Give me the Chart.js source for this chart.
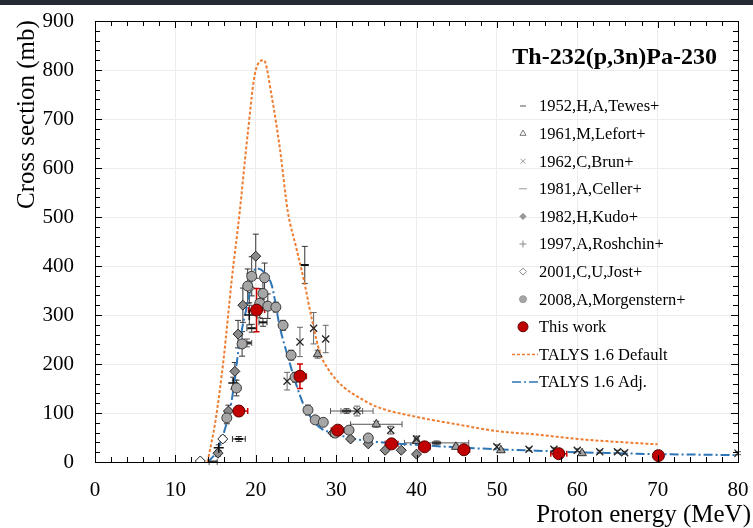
<!DOCTYPE html>
<html>
<head>
<meta charset="utf-8">
<script src="https://cdn.jsdelivr.net/npm/chart.js@4.4.1/dist/chart.umd.min.js"></script>
<style>
  html, body { margin: 0; padding: 0; background: #fff; }
  #wrap { position: relative; width: 753px; height: 528px; }
  #topbar { position: absolute; left: 0; top: 0; width: 753px; height: 5px; background: #262a33; }
</style>
</head>
<body>
<div id="wrap">
  <canvas id="chart" width="753" height="528"></canvas>
  <div id="topbar"></div>
</div>
<script>
// TALYS curves
const talysDefE  = [14, 15, 16, 17, 18, 19, 20, 21, 22, 23, 24, 25, 26, 27, 28, 29, 30, 31, 32, 33, 35, 40, 45, 50, 55, 60, 65, 70];
const talysDefXS = [0, 85, 210, 370, 510, 670, 800, 820, 745, 640, 510, 440, 370, 290, 222, 190, 168, 152, 140, 130, 113, 92, 77, 63, 56, 47, 41, 36];
const talysAdjE  = [14, 15, 16, 17, 18, 19, 20, 21, 22, 23, 24, 25, 26, 27, 28, 30, 32, 35, 40, 45, 50, 55, 60, 65, 70, 75, 80];
const talysAdjXS = [0, 18, 58, 125, 245, 325, 395, 388, 360, 275, 215, 160, 115, 88, 70, 57, 48, 41, 35, 30, 26, 23, 20, 18, 16, 15, 14];

// experimental data: [E (MeV), sigma (mb), d sigma, d E]
const tewes = [[17.9, 47, 5, 0.8], [19.5, 273, 8, 0.6], [20.9, 285, 8, 0.5], [26.1, 402, 38, 0]];
const lefort = [[27.7, 220, 8, 0], [35.0, 77, 6, 3.2], [40.0, 43, 4, 0], [44.9, 31, 4, 0], [50.5, 24, 3, 0], [60.6, 18, 3, 0]];
const brun = [[23.9, 165, 18, 0], [25.5, 245, 30, 0], [27.2, 273, 32, 0], [28.7, 251, 28, 0], [32.6, 104, 10, 2.0],
  [36.8, 65, 8, 0], [40.0, 47, 6, 0], [50.0, 31, 4, 0], [54.0, 26, 3, 0], [57.1, 26, 3, 0], [60.0, 24, 3, 0],
  [62.8, 21, 3, 0], [65.0, 21, 3, 0], [65.9, 19, 3, 0], [80.0, 18, 3, 0]];
const celler = [[14.7, 0, 0, 0.5], [18.9, 243, 8, 0.6], [20.8, 324, 8, 0.6], [31.3, 104, 5, 2.0], [42.5, 39, 4, 4.0]];
const kudo = [[15.3, 18, 6, 0], [16.6, 104, 12, 0], [17.4, 185, 18, 0], [17.8, 261, 28, 0], [18.4, 320, 35, 0],
  [20.0, 420, 45, 0], [29.6, 59, 6, 0], [31.8, 47, 5, 0], [34.0, 37, 4, 0], [36.1, 24, 4, 0], [38.1, 24, 4, 0], [40.0, 16, 3, 0]];
const roshchin = [[15.4, 29, 6, 0], [17.2, 161, 12, 0], [19.2, 300, 20, 0]];
const jost = [[13.1, 2, 2, 0], [15.9, 47, 6, 0], [19.2, 355, 30, 0]];
const morgenstern = [[16.4, 90, 12, 0], [17.6, 151, 16, 0], [18.3, 241, 25, 0], [19.0, 359, 35, 0], [19.5, 379, 40, 0],
  [20.5, 324, 30, 0], [20.9, 344, 30, 0], [21.1, 376, 30, 0], [21.5, 318, 25, 0], [22.5, 316, 10, 0], [23.4, 279, 10, 0],
  [24.4, 218, 10, 0], [24.9, 173, 10, 0], [26.5, 106, 10, 0], [27.4, 86, 5, 0], [28.4, 81, 5, 0], [29.9, 59, 5, 0],
  [31.6, 65, 5, 0], [34.0, 49, 6, 0]];
const thisWork = [[17.9, 104, 10, 1.1], [20.1, 310, 44, 1.0], [25.5, 175, 25, 0.8], [30.2, 65, 6, 0.8], [36.9, 37, 4, 0.8],
  [41.0, 31, 3, 0.7], [45.9, 25, 3, 0.7], [57.7, 17, 2, 1.0], [70.1, 13, 2, 0.5]];

const xTicks = [0, 10, 20, 30, 40, 50, 60, 70, 80];
const yTicks = [0, 100, 200, 300, 400, 500, 600, 700, 800, 900];

const SERIF = "'Liberation Serif', 'Times New Roman', serif";

function pts(arr) {
  return arr.map(p => ({ x: p[0], y: p[1], ey: p[2], ex: p[3] }));
}
function curve(es, xs) {
  return es.map((e, i) => ({ x: e, y: xs[i] }));
}

// error bars, drawn under the markers
const errorBars = {
  id: 'errorBars',
  beforeDatasetsDraw(chart) {
    const { ctx, scales: { x, y } } = chart;
    chart.data.datasets.forEach((ds, i) => {
      if (!ds.errColor || !chart.isDatasetVisible(i)) return;
      ctx.save();
      ctx.strokeStyle = ds.errColor;
      ctx.lineWidth = ds.errWidth || 1;
      ds.data.forEach(p => {
        const px = x.getPixelForValue(p.x), py = y.getPixelForValue(p.y);
        ctx.beginPath();
        if (p.ey) {
          const y1 = y.getPixelForValue(Math.max(0, p.y - p.ey)), y2 = y.getPixelForValue(p.y + p.ey);
          ctx.moveTo(px, y1); ctx.lineTo(px, y2);
          ctx.moveTo(px - 3, y1); ctx.lineTo(px + 3, y1);
          ctx.moveTo(px - 3, y2); ctx.lineTo(px + 3, y2);
        }
        if (p.ex) {
          const x1 = x.getPixelForValue(p.x - p.ex), x2 = x.getPixelForValue(p.x + p.ex);
          ctx.moveTo(x1, py); ctx.lineTo(x2, py);
          ctx.moveTo(x1, py - 3); ctx.lineTo(x1, py + 3);
          ctx.moveTo(x2, py - 3); ctx.lineTo(x2, py + 3);
        }
        ctx.stroke();
      });
      ctx.restore();
    });
  }
};

// frame, inner ticks, titles and legend
const decorations = {
  id: 'decorations',
  afterDatasetsDraw(chart) {
    const { ctx, chartArea: a, scales: { x, y } } = chart;
    ctx.save();
    ctx.strokeStyle = '#000';
    ctx.lineWidth = 1;
    ctx.beginPath();
    for (let e = 0; e <= 80; e += 2) {
      const px = Math.round(x.getPixelForValue(e)) + 0.5;
      const len = e % 10 === 0 ? 7 : 5;
      ctx.moveTo(px, a.bottom); ctx.lineTo(px, a.bottom - len);
      ctx.moveTo(px, a.top); ctx.lineTo(px, a.top + len);
    }
    for (let s = 0; s <= 900; s += 20) {
      const py = Math.round(y.getPixelForValue(s)) + 0.5;
      const len = s % 100 === 0 ? 7 : 5;
      ctx.moveTo(a.left, py); ctx.lineTo(a.left + len, py);
      ctx.moveTo(a.right, py); ctx.lineTo(a.right - len, py);
    }
    ctx.stroke();
    ctx.strokeRect(Math.round(a.left) + 0.5, Math.round(a.top) + 0.5, Math.round(a.right - a.left), Math.round(a.bottom - a.top));
    ctx.restore();
  },
  afterDraw(chart) {
    const { ctx } = chart;
    ctx.save();
    ctx.fillStyle = '#000';
    // plot title
    ctx.font = 'bold 24px ' + SERIF;
    ctx.textAlign = 'right';
    ctx.textBaseline = 'middle';
    ctx.fillText('Th-232(p,3n)Pa-230', 717, 58);
    // axis titles
    ctx.font = '25px ' + SERIF;
    ctx.fillText('Proton energy (MeV)', 751, 515);
    ctx.save();
    ctx.translate(27, 209);
    ctx.rotate(-Math.PI / 2);
    ctx.textAlign = 'left';
    ctx.fillText('Cross section (mb)', 0, 0);
    ctx.restore();

    // legend
    const draw = Chart.helpers.drawPoint;
    ctx.font = '16.5px ' + SERIF;
    ctx.textAlign = 'left';
    chart.data.datasets.forEach((ds, i) => {
      const ly = 106 + i * 27.6;
      ctx.fillStyle = '#000';
      ctx.fillText(ds.label, 539, ly + 1);
      if (ds.showLine) {
        ctx.save();
        ctx.strokeStyle = ds.borderColor;
        ctx.lineWidth = 1.5;
        ctx.setLineDash(ds.borderDash);
        ctx.beginPath();
        ctx.moveTo(512, ly); ctx.lineTo(538, ly);
        ctx.stroke();
        ctx.restore();
      } else {
        ctx.save();
        ctx.fillStyle = ds.legendFill;
        ctx.strokeStyle = ds.legendStroke;
        draw(ctx, { pointStyle: ds.pointStyle, radius: ds.legendRadius, rotation: 0, borderWidth: ds.legendBorder }, 523, ly);
        ctx.restore();
      }
    });
    ctx.restore();
  }
};

const datasets = [
  { label: '1952,H,A,Tewes+', data: pts(tewes), pointStyle: 'line', pointRadius: 4, borderWidth: 2,
    borderColor: '#111', backgroundColor: '#111', errColor: '#333',
    legendFill: '#555', legendStroke: '#555', legendRadius: 3, legendBorder: 2 },
  { label: '1961,M,Lefort+', data: pts(lefort), pointStyle: 'triangle', pointRadius: 5, borderWidth: 1,
    borderColor: '#333', backgroundColor: '#a0a0a0', errColor: '#555',
    legendFill: '#fff', legendStroke: '#777', legendRadius: 3.5, legendBorder: 1 },
  { label: '1962,C,Brun+', data: pts(brun), pointStyle: 'crossRot', pointRadius: 5, borderWidth: 1.3,
    borderColor: '#222', backgroundColor: '#222', errColor: '#666',
    legendFill: '#999', legendStroke: '#999', legendRadius: 3.5, legendBorder: 1 },
  { label: '1981,A,Celler+', data: pts(celler), pointStyle: 'line', pointRadius: 4.5, borderWidth: 3,
    borderColor: '#333', backgroundColor: '#333', errColor: '#555',
    legendFill: '#999', legendStroke: '#999', legendRadius: 4, legendBorder: 3 },
  { label: '1982,H,Kudo+', data: pts(kudo), pointStyle: 'rectRot', pointRadius: 5, borderWidth: 1,
    borderColor: '#222', backgroundColor: '#8a8a8a', errColor: '#333',
    legendFill: '#999', legendStroke: '#888', legendRadius: 3, legendBorder: 1 },
  { label: '1997,A,Roshchin+', data: pts(roshchin), pointStyle: 'cross', pointRadius: 5, borderWidth: 1.5,
    borderColor: '#111', backgroundColor: '#111', errColor: '#333',
    legendFill: '#888', legendStroke: '#888', legendRadius: 3.5, legendBorder: 1 },
  { label: '2001,C,U,Jost+', data: pts(jost), pointStyle: 'rectRot', pointRadius: 5, borderWidth: 1,
    borderColor: '#222', backgroundColor: '#fff', errColor: '#333',
    legendFill: '#fff', legendStroke: '#888', legendRadius: 3.5, legendBorder: 1 },
  { label: '2008,A,Morgenstern+', data: pts(morgenstern), pointStyle: 'circle', pointRadius: 5, borderWidth: 1,
    borderColor: '#3a3a3a', backgroundColor: '#a6a6a6', errColor: '#333',
    legendFill: '#a6a6a6', legendStroke: '#999', legendRadius: 3.5, legendBorder: 1 },
  { label: 'This work', data: pts(thisWork), pointStyle: 'circle', pointRadius: 6, borderWidth: 1,
    borderColor: '#5a0000', backgroundColor: '#c00000', errColor: '#d00000', errWidth: 1.5,
    legendFill: '#c00000', legendStroke: '#600000', legendRadius: 5, legendBorder: 1 },
  { label: 'TALYS 1.6 Default', data: curve(talysDefE, talysDefXS), showLine: true, pointRadius: 0,
    borderColor: '#ed7d31', borderWidth: 2, borderDash: [3, 2], cubicInterpolationMode: 'monotone' },
  { label: 'TALYS 1.6 Adj.', data: curve(talysAdjE, talysAdjXS), showLine: true, pointRadius: 0,
    borderColor: '#2e75b6', borderWidth: 2, borderDash: [9, 3, 2, 3], cubicInterpolationMode: 'monotone' }
];
// draw the model curves beneath the measured points
datasets.forEach((ds, i) => { ds.order = ds.showLine ? 20 : 10 - i; });

// the plot box is fixed; tick labels may hang over its edges
function noPad(s) { s.paddingLeft = 0; s.paddingRight = 0; s.paddingTop = 0; s.paddingBottom = 0; }

new Chart(document.getElementById('chart'), {
  type: 'scatter',
  data: { datasets },
  options: {
    responsive: false,
    animation: false,
    devicePixelRatio: 1,
    layout: { padding: { left: 0, right: 15, top: 21, bottom: 0 } },
    plugins: { legend: { display: false }, tooltip: { enabled: false } },
    scales: {
      x: {
        type: 'linear', min: 0, max: 80,
        afterBuildTicks: s => { s.ticks = xTicks.map(v => ({ value: v })); },
        afterFit: s => { s.height = 66; noPad(s); },
        grid: { color: '#ececec', drawTicks: false },
        border: { display: false },
        ticks: { color: '#000', font: { family: SERIF, size: 21 }, padding: 16, maxRotation: 0 }
      },
      y: {
        type: 'linear', min: 0, max: 900,
        afterBuildTicks: s => { s.ticks = yTicks.map(v => ({ value: v })); },
        afterFit: s => { s.width = 95; noPad(s); },
        grid: { color: '#ececec', drawTicks: false },
        border: { display: false },
        ticks: { color: '#000', font: { family: SERIF, size: 21 }, padding: 21 }
      }
    }
  },
  plugins: [errorBars, decorations]
});
</script>
</body>
</html>
